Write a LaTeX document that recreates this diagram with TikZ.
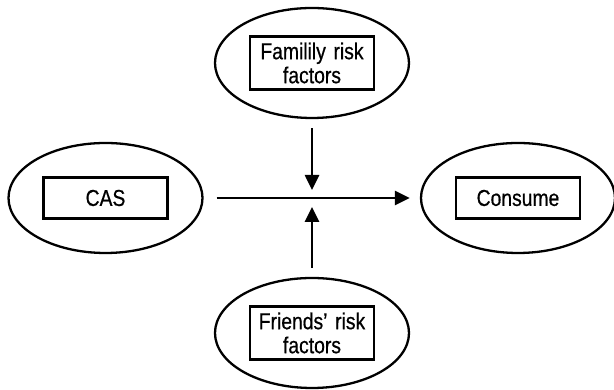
\documentclass[tikz,border=0pt]{standalone}
\usepackage{fontspec}
\setmainfont{Liberation Sans}[FakeStretch=0.84, FakeBold=0.6]
\usetikzlibrary{shapes,arrows.meta}
\usetikzlibrary{positioning}
\tikzstyle{oval} = [draw, ellipse, line width=2.3pt,
    minimum width=194pt, minimum height=110pt, inner sep=0pt]
\tikzstyle{box} = [rectangle, draw, line width=2.8pt, text width=118pt,
    align=center, minimum width=124pt, minimum height=41pt, inner sep=0pt,
    font=\fontsize{23}{24}\selectfont]
\tikzstyle{tall box} = [box, minimum height=53pt]
\tikzstyle{line} = [draw, line width=2.6pt, -{Triangle[length=15pt,width=14pt]}]

\begin{document}
\begin{tikzpicture}[x=1pt, y=1pt, node distance=135pt, auto]
  \useasboundingbox (0,0) rectangle (614,390);
  % Place nodes
  \node [oval] (cas) at (105.5,192) {};
  \node [oval, right of=cas, node distance=412.5pt] (consume) {};
  \coordinate [right of=cas, node distance=206.5pt] (mid);
  \node [oval, above of=mid] (family) {};
  \node [oval, below of=mid] (friends) {};

  \node [box] (casbox) at (cas) {CAS};
  \node [box] (consumebox) at (consume) {Consume};
  \node [tall box] (familybox) at (family) {Familily risk\\factors};
  \node [tall box] (friendsbox) at (friends) {Friends’ risk\\factors};

  %paths
  \path [line, shorten <=13pt, shorten >=10pt] (cas) -- (consume);
  \path [line, shorten <=9pt, shorten >=8pt] (family) -- (mid);
  \path [line, shorten <=9pt, shorten >=9pt] (friends) -- (mid);

\end{tikzpicture}
\end{document}
